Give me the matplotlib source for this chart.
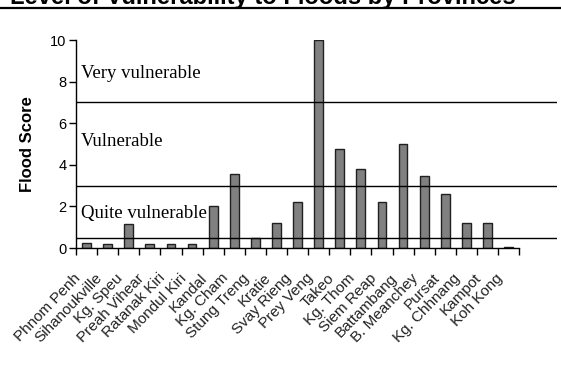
import numpy as np
import matplotlib
matplotlib.use("Agg")
import matplotlib.pyplot as plt
from matplotlib.lines import Line2D

provinces = ['Phnom Penh', 'Sihanoukville', 'Kg. Speu', 'Preah Vihear', 'Ratanak Kiri',
             'Mondul Kiri', 'Kandal', 'Kg. Cham', 'Stung Treng', 'Kratie', 'Svay Rieng',
             'Prey Veng', 'Takeo', 'Kg. Thom', 'Siem Reap', 'Battambang', 'B. Meanchey',
             'Pursat', 'Kg. Chhnang', 'Kampot', 'Koh Kong']
scores = [0.25, 0.2, 1.15, 0.2, 0.2, 0.2, 2.0, 3.55, 0.5, 1.2, 2.2,
          10.0, 4.75, 3.8, 2.2, 5.0, 3.45, 2.6, 1.2, 1.2, 0.06]
thresholds = [0.5, 3, 7]
levels = ['Quite vulnerable', 'Vulnerable', 'Very vulnerable']
level_y = [1.68, 5.14, 8.41]

plt.rcParams['font.family'] = ['Liberation Sans', 'DejaVu Sans']

fig = plt.figure(figsize=(5.61, 3.67), dpi=100)
ax = fig.add_axes([0.1355, 0.324, 0.8575, 0.567])

x = np.arange(len(provinces)) + 0.5
ax.bar(x, scores, width=0.42, color='#808080', edgecolor='#202020', linewidth=1.0, zorder=2)

for t in thresholds:
    ax.axhline(t, color='black', linewidth=1.0, zorder=3)

for lab, yy in zip(levels, level_y):
    ax.text(0.22, yy, lab, family='Liberation Serif', fontsize=13.5, ha='left', va='center')

ax.set_xlim(0, 22.8)
ax.set_ylim(0, 10)
ax.set_yticks([0, 2, 4, 6, 8, 10])
ax.set_xticks(np.arange(len(provinces) + 1))
ax.set_xticklabels([])
ax.tick_params(axis='both', direction='out', length=5, width=1.0, labelsize=10.5)
ax.tick_params(axis='y', pad=2)
for sp in ['top', 'right']:
    ax.spines[sp].set_visible(False)
ax.spines['bottom'].set_bounds(0, len(provinces))
ax.spines['left'].set_linewidth(1.0)
ax.spines['bottom'].set_linewidth(1.0)

for xi, lab in zip(x, provinces):
    ax.text(xi - 0.15, -1.1, lab, rotation=46, ha='right', va='top',
            fontsize=11, color='#222222')

ax.set_ylabel('Flood Score', fontsize=12, fontweight='bold', labelpad=11)

title = fig.text(10 / 561, 1 - 4 / 367, 'Level of Vulnerability to Floods by Provinces',
                 fontsize=14, fontweight='bold', ha='left', va='baseline')
fig.canvas.draw()
w = title.get_window_extent().width
title.set_fontsize(14 * 507 / w)

fig.add_artist(Line2D([0, 1], [1 - 8.3 / 367, 1 - 8.3 / 367], color='black',
                      linewidth=1.6, transform=fig.transFigure))

fig.savefig('out.png', dpi=100)
